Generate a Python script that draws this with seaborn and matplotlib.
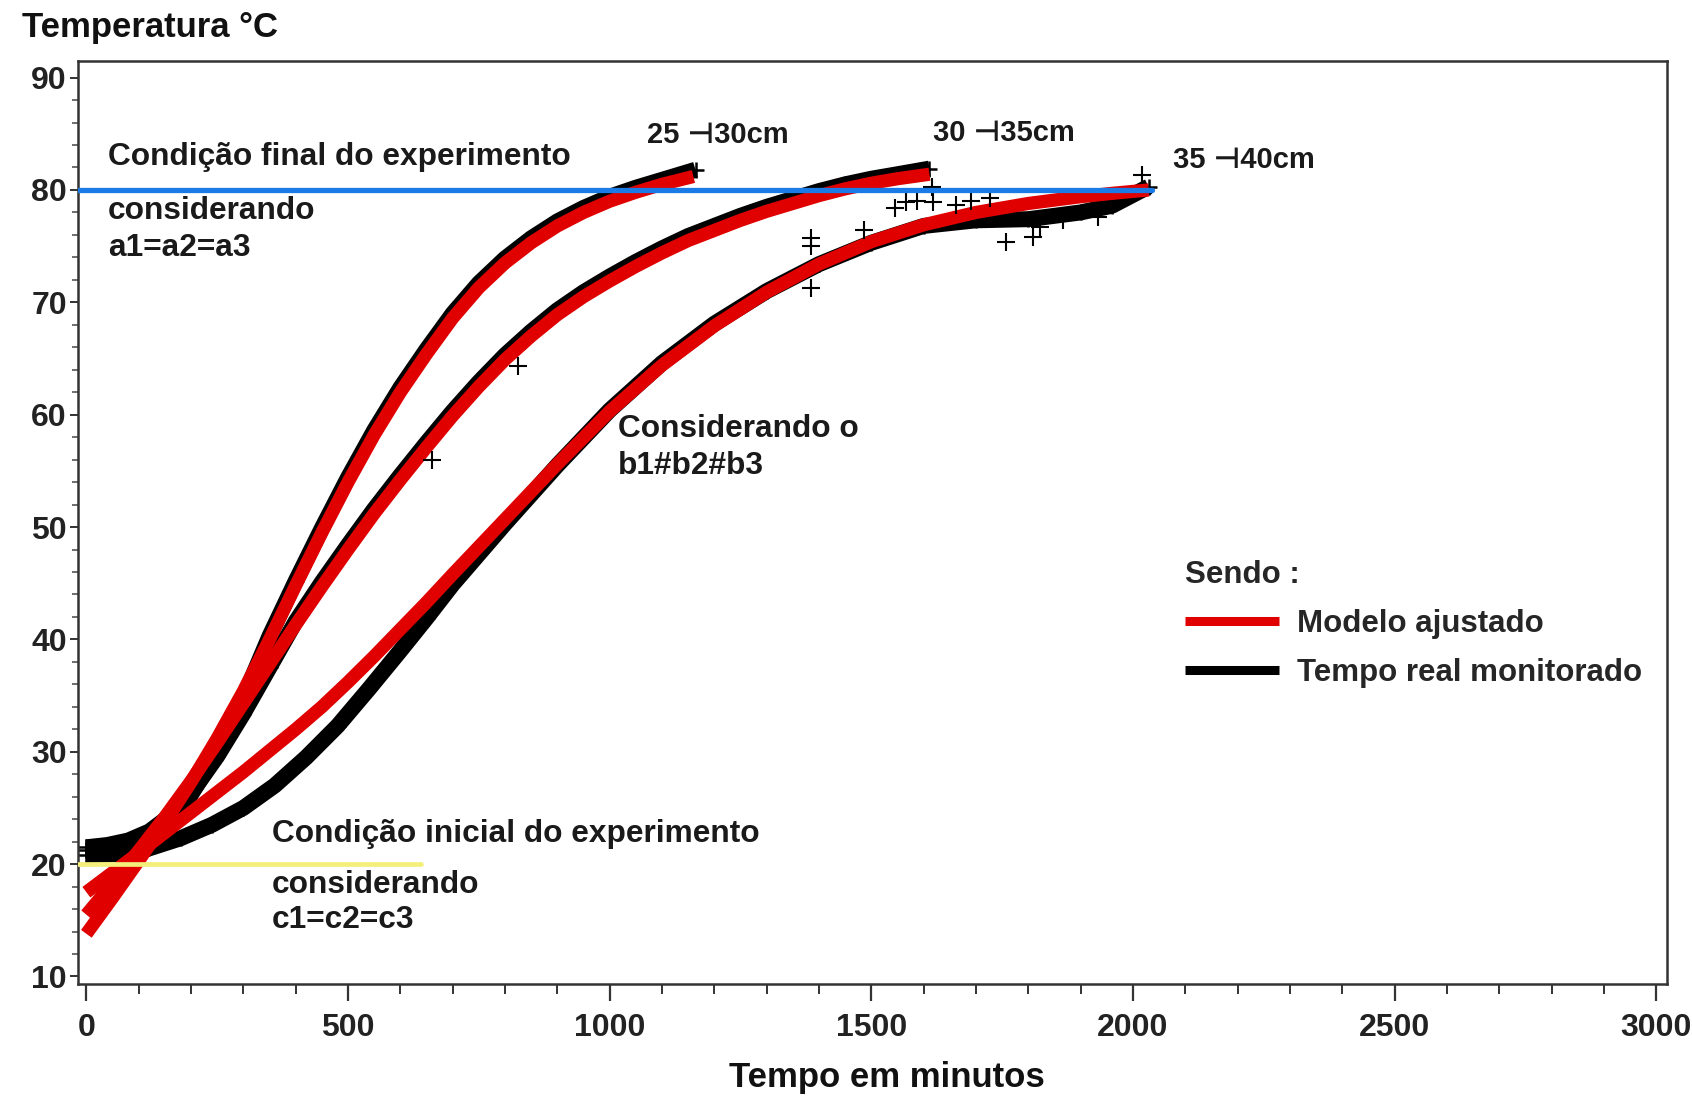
import numpy as np
import pandas as pd
import matplotlib
matplotlib.use("Agg")
import matplotlib.pyplot as plt
from matplotlib.lines import Line2D
from matplotlib.ticker import MultipleLocator
import seaborn as sns

# ---------------- data ----------------
series_names = ["25 ⊣30cm", "30 ⊣35cm", "35 ⊣40cm"]

fit1_t = [0, 50, 100, 150, 200, 250, 300, 350, 400, 450, 500, 550, 600, 650, 700, 750, 800, 850, 900, 950, 1000, 1050, 1100, 1160]
fit1_T = [13.8, 17.0, 20.3, 23.7, 27.3, 31.2, 35.4, 40.0, 44.8, 49.5, 54.0, 58.2, 62.0, 65.4, 68.6, 71.3, 73.5, 75.3, 76.8, 78.0, 79.0, 79.8, 80.5, 81.2]

fit2_t = [0, 50, 100, 150, 200, 250, 300, 350, 400, 450, 500, 550, 600, 650, 700, 750, 800, 850, 900, 950, 1000, 1050, 1100, 1150, 1200, 1250, 1300, 1350, 1400, 1450, 1500, 1550, 1611]
fit2_T = [15.5, 18.3, 21.2, 24.2, 27.4, 30.8, 34.3, 37.8, 41.3, 44.7, 48.0, 51.2, 54.2, 57.1, 59.9, 62.5, 64.9, 67.0, 68.9, 70.5, 71.9, 73.2, 74.4, 75.5, 76.4, 77.3, 78.1, 78.8, 79.5, 80.1, 80.6, 81.0, 81.4]

fit3_t = [0, 100, 200, 300, 400, 450, 500, 550, 600, 650, 700, 800, 900, 1000, 1100, 1200, 1300, 1400, 1500, 1600, 1700, 1800, 1900, 1960, 2030]
fit3_T = [17.5, 21.0, 24.6, 28.2, 32.0, 34.0, 36.2, 38.5, 40.9, 43.3, 45.8, 50.7, 55.6, 60.3, 64.4, 67.9, 70.9, 73.4, 75.4, 76.9, 78.0, 78.8, 79.4, 79.7, 80.0]

obs1_t = [0, 40, 80, 120, 160, 200, 250, 300, 350, 400, 450, 500, 550, 600, 650, 700, 750, 800, 850, 900, 950, 1000, 1050, 1100, 1164]
obs1_T = [21.3, 21.5, 21.9, 22.6, 24.0, 26.2, 30.0, 34.8, 40.3, 45.2, 49.9, 54.4, 58.6, 62.4, 65.8, 69.0, 71.7, 73.9, 75.7, 77.2, 78.4, 79.4, 80.2, 80.9, 81.8]

obs2_t = [0, 40, 80, 120, 160, 200, 250, 300, 350, 400, 450, 500, 550, 600, 650, 700, 750, 800, 850, 900, 950, 1000, 1050, 1100, 1150, 1200, 1250, 1300, 1350, 1400, 1450, 1500, 1550, 1611]
obs2_T = [21.5, 21.7, 22.1, 22.9, 24.3, 26.3, 29.6, 33.4, 37.5, 41.6, 45.1, 48.4, 51.6, 54.6, 57.5, 60.3, 62.9, 65.3, 67.4, 69.3, 70.9, 72.3, 73.6, 74.8, 75.9, 76.8, 77.7, 78.5, 79.2, 79.9, 80.5, 81.0, 81.4, 81.9]

obs3_t = [0, 60, 120, 180, 240, 300, 360, 420, 480, 540, 600, 650, 700, 800, 900, 1000, 1100, 1200, 1300, 1400, 1500, 1600, 1700, 1800, 1900, 1960, 2030]
obs3_T = [20.8, 20.9, 21.4, 22.3, 23.5, 25.0, 27.0, 29.5, 32.3, 35.6, 39.0, 41.9, 44.9, 50.3, 55.5, 60.4, 64.6, 68.1, 71.0, 73.4, 75.3, 76.8, 77.3, 77.4, 78.0, 78.6, 80.3]

# isolated "+" readings
pts_t = [1384, 1384, 1384, 1486, 1545, 1567, 1588, 1618, 1662, 1691, 1727, 1757, 1809, 1823, 1867, 1934, 2018, 825, 660, 1615]
pts_T = [75.7, 75.0, 71.3, 76.4, 78.4, 78.9, 79.0, 78.9, 78.7, 79.0, 79.3, 75.4, 75.8, 76.7, 77.3, 77.6, 81.3, 64.3, 56.0, 80.3]

final_T = 80
final_t = [-16, 2037]
initial_T = 20
initial_t = [-16, 640]

x_ticks = [0, 500, 1000, 1500, 2000, 2500, 3000]
y_ticks = [10, 20, 30, 40, 50, 60, 70, 80, 90]

# ---------------- figure ----------------
sns.set_theme(style="white")
plt.rcParams['font.family'] = ['Liberation Sans', 'DejaVu Sans']
plt.rcParams['font.weight'] = 'bold'

fig = plt.figure(figsize=(16.92, 10.97), dpi=100)
ax = fig.add_axes([0.0461, 0.103, 0.939, 0.841])

RED = "#e00000"
BLACK = "#000000"

fits = [(fit1_t, fit1_T), (fit2_t, fit2_T), (fit3_t, fit3_T)]
obss = [(obs1_t, obs1_T), (obs2_t, obs2_T), (obs3_t, obs3_T)]

for (ot, oT) in obss:
    df = pd.DataFrame({"t": ot, "T": oT})
    sns.lineplot(data=df, x="t", y="T", ax=ax, color=BLACK, lw=11.5, sort=False,
                 solid_capstyle="butt", solid_joinstyle="round", zorder=2)
    sns.scatterplot(data=df, x="t", y="T", ax=ax, color=BLACK, marker="+", s=130,
                    linewidth=1.8, zorder=2)

for (ft, fT) in fits:
    df = pd.DataFrame({"t": ft, "T": fT})
    sns.lineplot(data=df, x="t", y="T", ax=ax, color=RED, lw=9.5, sort=False,
                 solid_capstyle="butt", solid_joinstyle="round", zorder=3)

dfp = pd.DataFrame({"t": pts_t, "T": pts_T})
sns.scatterplot(data=dfp, x="t", y="T", ax=ax, color=BLACK, marker="+", s=150,
                linewidth=1.5, zorder=4)

sns.lineplot(x=final_t, y=[final_T, final_T], ax=ax, color="#1a7ae6", lw=3.8, zorder=5)
sns.lineplot(x=initial_t, y=[initial_T, initial_T], ax=ax, color="#f3ef7a", lw=3.4, zorder=5)

ax.set_xlim(-16, 3020)
ax.set_ylim(9.33, 91.44)
ax.set_xticks(x_ticks)
ax.set_yticks(y_ticks)
ax.xaxis.set_minor_locator(MultipleLocator(100))
ax.yaxis.set_minor_locator(MultipleLocator(2))
ax.tick_params(axis="x", which="major", direction="out", length=12, width=1.6,
               color="#333333", labelsize=23, pad=9, bottom=True)
ax.tick_params(axis="x", which="minor", direction="out", length=7, width=1.4,
               color="#333333", bottom=True)
ax.tick_params(axis="y", which="major", direction="out", length=6, width=1.4,
               color="#333333", labelsize=23, pad=2, left=True)
ax.tick_params(axis="y", which="minor", direction="out", length=4, width=1.2,
               color="#555555", left=True)
for lab in ax.get_xticklabels() + ax.get_yticklabels():
    lab.set_fontweight("bold")
    lab.set_color("#222222")
for sp in ax.spines.values():
    sp.set_color("#333333")
    sp.set_linewidth(1.8)

ax.set_xlabel("Tempo em minutos", fontsize=25, fontweight="bold", color="#111111", labelpad=13)
ax.xaxis.label.set_x(0.509)
ax.set_ylabel("")
fig.text(22 / 1692, 1 - 27 / 1097, "Temperatura °C", fontsize=25, fontweight="bold",
         color="#111111", ha="left", va="center")

tk = dict(fontsize=22.8, fontweight="bold", color="#1a1a1a", ha="left", va="center", zorder=6)
tl = dict(tk, fontsize=21)
ax.text(41, 82.9, "Condição final do experimento", **tk)
ax.text(41, 78.1, "considerando", **tk)
ax.text(41, 74.8, "a1=a2=a3", **tk)
ax.text(1071, 84.9, series_names[0], **tl)
ax.text(1618, 85.1, series_names[1], **tl)
ax.text(2077, 82.7, series_names[2], **tl)
ax.text(1016, 58.7, "Considerando o", **tk)
ax.text(1016, 55.4, "b1#b2#b3", **tk)
ax.text(355, 22.7, "Condição inicial do experimento", **tk)
ax.text(355, 18.1, "considerando", **tk)
ax.text(355, 15.0, "c1=c2=c3", **tk)

handles = [Line2D([], [], color=RED, lw=6.5, solid_capstyle="butt"),
           Line2D([], [], color=BLACK, lw=6.5, solid_capstyle="butt")]
leg = ax.legend(handles, ["Modelo ajustado", "Tempo real monitorado"], title="Sendo :",
                loc="upper left", bbox_to_anchor=(0.679, 0.49), frameon=False,
                handlelength=3.0, handletextpad=0.6, labelspacing=0.6,
                prop={"size": 22.5, "weight": "bold"},
                title_fontproperties={"size": 22.5, "weight": "bold"})
leg._legend_box.align = "left"

fig.savefig("out.png", dpi=100, facecolor="white")
